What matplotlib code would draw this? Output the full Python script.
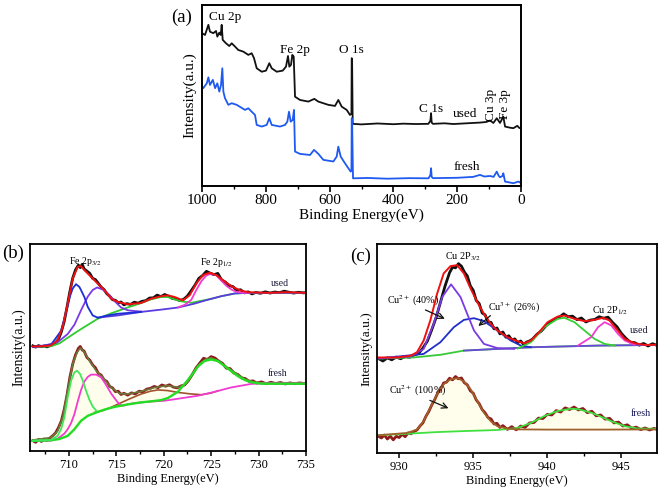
import matplotlib
matplotlib.use("Agg")
import matplotlib.pyplot as plt
from matplotlib.ticker import MultipleLocator

plt.rcParams['font.family'] = ['Liberation Serif', 'DejaVu Serif']
plt.rcParams['mathtext.fontset'] = 'stix'

# ---------------- Panel (a): survey spectra ----------------
a_used_E = [1000, 990.6, 980, 975, 964.6, 956, 952, 945.7, 941.4, 938.3, 935.1, 924.8, 914.4, 906.9, 896.5,
            886.2, 870.5, 854.8, 844.2, 837, 828.5, 812.8, 799.4, 789, 781.5, 765.8, 747, 736.7, 730.4,
            726.3, 721, 716.9, 712.5, 708.4, 692.8, 666.7, 647.9, 635.4, 604, 583, 572.7, 562, 546.4, 536,
            531.5, 530.7, 529.5, 527.6, 500, 450, 400, 369, 330, 290.4, 284, 282, 280, 276, 240, 212, 160,
            128.5, 110, 97, 86.5, 76, 65.8, 55.4, 50, 35, 24, 11.6, 5, 0]
a_used_I = [84.4, 83.4, 89.0, 85.2, 84.4, 85.6, 82.5, 84.7, 83.4, 89.0, 80.7, 78.8, 77.3, 78.8, 77.0,
            75.1, 74.2, 72.4, 73.3, 70.6, 65.0, 63.1, 63.7, 67.8, 65.0, 63.1, 63.7, 65.9, 71.8,
            65.9, 66.9, 72.4, 71.4, 49.3, 47.5, 46.6, 48.1, 46.6, 44.8, 44.2, 47.5, 43.8, 42.0, 39.2,
            40.0, 70.6, 70.0, 34.3, 34.0, 34.5, 34.1, 34.4, 34.2, 34.3, 36.0, 40.2, 35.0, 34.3, 34.6, 34.2, 34.7,
            35.0, 35.3, 36.1, 34.8, 37.4, 34.8, 38.3, 32.8, 32.2, 31.9, 33.2, 32.0, 31.9]

a_fresh_E = [1000, 996, 985, 980, 975, 966, 959, 952, 945.7, 940.4, 936.3, 933, 928, 917.5, 906.9, 891.2,
             865.2, 854.8, 844.2, 833.8, 828.5, 812.8, 797.2, 789, 781.5, 755.5, 739.8, 732.5, 727.3, 722,
             715.7, 711.6, 708.4, 692.8, 661.4, 648.9, 635.3, 619.6, 588.2, 577.8, 572.7, 565.2, 551.7,
             541.3, 533.8, 531.5, 530.7, 529.5, 526.6, 480, 420, 350, 290, 284, 282, 280, 276, 200, 150,
             128.5, 115, 97, 86, 76, 70, 65.8, 58, 55.4, 50, 24, 15, 8.4, 2, 0]
a_fresh_I = [54.9, 54.0, 56.7, 60.0, 55.8, 58.6, 54.0, 56.7, 52.1, 55.8, 65.0, 52.1, 48.5, 44.8, 45.7, 44.8,
             42.0, 42.9, 41.0, 39.2, 33.7, 32.8, 33.7, 37.4, 33.7, 32.8, 33.7, 35.5, 41.0, 35.5,
             36.5, 42.0, 19.0, 17.7, 17.1, 19.9, 17.7, 14.4, 13.5, 16.2, 21.7, 16.2, 12.5,
             9.8, 7.9, 8.5, 37.4, 36.5, 4.2, 4.4, 4.0, 4.3, 4.2, 6.0, 9.8, 5.0, 4.3, 4.5, 5.0,
             6.1, 5.2, 5.5, 5.0, 7.9, 5.6, 4.8, 5.5, 7.0, 2.4, 1.5, 2.0, 2.4, 1.8, 3.3]

# ---------------- Panel (b): Fe 2p ----------------
b_used_data_E = [706.2, 706.5, 706.8, 707.1, 707.4, 707.7, 708.0, 708.3, 708.6, 708.9, 709.2, 709.5, 709.8,
                 710.1, 710.4, 710.7, 711.0, 711.2, 711.4, 711.6, 711.9, 712.2, 712.5, 712.8, 713.1, 713.4,
                 713.7, 714.0, 714.3, 714.6, 714.9, 715.2, 715.5, 715.8, 716.1, 716.5, 716.9, 717.3, 717.7,
                 718.1, 718.5, 718.9, 719.3, 719.7, 720.1, 720.5, 720.9, 721.3, 721.7, 722.1, 722.5, 722.9,
                 723.3, 723.7, 724.1, 724.5, 724.9, 725.3, 725.7, 726.1, 726.5, 726.9, 727.3, 727.7, 728.1,
                 728.5, 728.9, 729.3, 729.7, 730.2, 730.7, 731.2, 731.7, 732.2, 732.7, 733.2, 733.7, 734.2,
                 734.7, 735.0]
b_used_data_I = [50.8, 50.2, 50.9, 50.4, 50.7, 50.3, 50.9, 51.5, 52.3, 54.0, 57.5, 62.5, 69.5,
                 77.0, 83.5, 87.5, 89.8, 88.6, 90.2, 88.0, 86.9, 85.8, 83.4, 82.8, 81.0, 79.2,
                 78.0, 76.0, 74.8, 73.1, 72.8, 71.6, 72.0, 70.6, 71.2, 70.8, 71.9, 71.4, 72.3,
                 72.6, 73.9, 74.0, 75.3, 74.6, 75.6, 74.8, 73.7, 73.4, 72.6, 73.3, 74.9, 77.5,
                 80.2, 83.4, 84.8, 86.8, 85.9, 85.2, 85.8, 82.6, 81.6, 79.9, 79.4, 77.6, 77.9,
                 76.4, 76.9, 75.9, 76.6, 76.2, 76.9, 76.3, 76.8, 76.5, 77.2, 76.7, 76.3, 76.7,
                 76.4, 76.5]
b_used_fit_E = [706.2, 707.0, 708.1, 708.8, 709.35, 709.87, 710.4, 710.93, 711.28, 711.63, 712.34, 713.04,
                713.75, 714.45, 715.15, 716.21, 717.62, 718.68, 719.73, 720.44, 721.14, 722.02, 722.73,
                723.43, 724.13, 724.84, 725.54, 726.25, 727.13, 728.01, 728.89, 731.0, 733.0, 735.0]
b_used_fit_I = [50.5, 50.6, 51.0, 53.4, 59.9, 71.2, 83.3, 89.0, 89.3, 87.4, 84.1, 80.9,
                77.7, 73.6, 72.0, 70.9, 71.5, 73.6, 74.8, 75.2, 74.4, 72.8, 75.2,
                80.9, 85.0, 86.1, 85.0, 82.5, 79.6, 77.7, 76.7, 76.4, 76.7, 76.4]
b_used_fe2_E = [706.2, 707.06, 708.11, 709.17, 709.52, 709.87, 710.15, 710.4, 710.75, 711.1, 711.28,
                711.63, 711.99, 712.51, 713.04, 714.1, 715.15, 717.62]
b_used_fe2_I = [50.3, 50.8, 51.3, 58.0, 64.0, 70.2, 75.2, 78.5, 80.6, 79.3, 77.7,
                74.4, 69.6, 65.5, 64.4, 65.5, 66.3, 67.2]
b_used_fe3_E = [706.2, 707.06, 708.82, 709.87, 710.58, 711.28, 711.99, 712.51, 712.97, 713.57, 714.1,
                714.8, 715.51, 716.21, 716.92, 717.62]
b_used_fe3_I = [50.3, 50.5, 52.6, 56.5, 61.0, 68.0, 74.6, 77.8, 79.0, 78.0, 76.1,
                72.5, 69.3, 68.0, 67.6, 67.4]
b_used_bg_E = [713.04, 715.15, 717.62, 719.73, 721.49, 723.25, 724.66, 726.07, 727.48, 728.89, 735.0]
b_used_bg_I = [64.4, 65.5, 67.2, 68.3, 69.3, 71.2, 73.1, 74.8, 76.1, 76.4, 76.4]
b_used_sat_E = [706.18, 708.11, 709.0, 709.87, 710.8, 711.63, 713.04, 714.45, 715.86, 717.62, 718.68,
                719.73, 720.44, 721.14, 721.85, 722.9, 724.0, 725.0, 726.1, 727.5, 728.9, 735.0]
b_used_sat_I = [50.2, 50.6, 52.0, 54.7, 57.5, 59.9, 63.9, 66.5, 68.8, 71.5, 73.3,
                74.4, 74.4, 73.3, 72.3, 71.6, 72.6, 73.5, 74.8, 76.1, 76.4, 76.4]
b_used_p12_E = [721.5, 722.2, 722.9, 723.4, 723.96, 724.49, 725.01, 725.54, 726.07, 726.6, 727.13,
                727.65, 728.2, 729.0]
b_used_p12_I = [69.4, 70.6, 73.0, 77.5, 82.0, 84.8, 85.7, 84.8, 82.3, 79.8, 78.0,
                76.9, 76.5, 76.4]

b_fresh_data_E = [706.2, 706.5, 706.8, 707.1, 707.4, 707.7, 708.0, 708.3, 708.6, 708.9, 709.2, 709.5,
                  709.8, 710.1, 710.4, 710.7, 711.0, 711.2, 711.4, 711.6, 711.9, 712.2, 712.5, 712.8,
                  713.1, 713.4, 713.7, 714.0, 714.3, 714.6, 714.9, 715.2, 715.5, 715.8, 716.2, 716.6,
                  717.0, 717.4, 717.8, 718.2, 718.6, 719.0, 719.4, 719.8, 720.2, 720.6, 721.0, 721.4,
                  721.8, 722.2, 722.6, 723.0, 723.4, 723.8, 724.2, 724.6, 725.0, 725.4, 725.8, 726.2,
                  726.6, 727.0, 727.4, 727.8, 728.2, 728.6, 729.0, 729.4, 729.8, 730.3, 730.8, 731.3,
                  731.8, 732.3, 732.8, 733.3, 733.8, 734.3, 734.8, 735.0]
b_fresh_data_I = [5.0, 4.2, 5.6, 4.6, 5.8, 5.1, 6.3, 7.4, 8.8, 11.3, 14.5, 20.0,
                  27.0, 35.5, 42.0, 46.5, 49.6, 50.5, 48.8, 48.3, 45.2, 43.9, 41.6, 40.2,
                  37.5, 36.7, 34.4, 33.6, 31.2, 30.5, 28.7, 28.9, 27.3, 27.9, 27.0, 28.1,
                  27.6, 28.9, 28.6, 29.9, 30.3, 31.2, 30.6, 31.9, 31.3, 32.0, 30.9, 30.5,
                  31.4, 31.9, 34.0, 36.9, 40.1, 42.5, 44.8, 44.2, 45.6, 44.9, 43.4, 42.3,
                  40.0, 39.8, 37.6, 37.0, 35.3, 35.0, 33.6, 33.9, 32.8, 33.4, 32.5, 33.2,
                  32.6, 33.1, 32.4, 32.9, 32.5, 32.9, 32.6, 32.8]
b_fresh_fit_E = [706.18, 708.11, 708.82, 709.35, 709.87, 710.4, 710.86, 711.21, 711.63, 712.16, 712.87,
                 713.57, 714.45, 715.33, 716.21, 717.62, 719.03, 720.44, 721.49, 722.37, 723.08, 723.78,
                 724.49, 725.01, 725.72, 726.42, 727.48, 728.54, 729.59, 731.0, 735.0]
b_fresh_fit_I = [5.3, 6.5, 9.7, 16.2, 29.1, 42.1, 47.7, 49.8, 47.7, 43.7, 38.8,
                 35.6, 30.7, 27.8, 27.5, 28.8, 30.7, 31.6, 30.7, 32.4, 37.2, 42.1,
                 44.5, 45.0, 43.7, 41.3, 38.0, 34.8, 33.2, 32.7, 32.7]
b_fresh_fe2_E = [706.18, 708.11, 708.8, 709.17, 709.52, 709.87, 710.23, 710.58, 710.86, 711.18, 711.46,
                 711.81, 712.16, 712.51, 712.87]
b_fresh_fe2_I = [5.0, 5.3, 7.3, 10.5, 16.2, 25.9, 34.0, 38.0, 38.8, 37.2, 34.0,
                 29.1, 24.8, 21.5, 19.6]
b_fresh_fe3_E = [706.18, 708.11, 708.82, 709.52, 709.87, 710.23, 710.58, 710.93, 711.28, 711.63, 711.99,
                 712.34, 712.87, 713.39, 713.75, 714.1, 714.45, 714.8, 715.15, 715.51, 715.86, 716.21,
                 717.0, 718.68, 720.1, 721.14, 723.6, 725.37, 727.1, 729.2, 730.5, 735.0]
b_fresh_fe3_I = [5.0, 5.0, 6.0, 8.4, 10.5, 13.5, 17.8, 23.9, 29.5, 33.6, 35.8,
                 36.9, 36.9, 35.6, 33.2, 30.5, 27.8, 25.6, 23.5, 22.0, 22.0, 22.6,
                 23.2, 23.9, 24.3, 25.0, 26.7, 28.6, 30.7, 32.4, 32.7, 32.7]
b_fresh_bg_E = [706.18, 708.11, 709.0, 709.87, 710.58, 711.28, 711.99, 712.87, 713.75, 714.8, 716.21,
                717.62, 718.68, 719.73, 720.44, 721.49, 722.2, 722.9, 723.6, 724.3, 725.01, 725.72,
                726.42, 727.13, 727.84, 728.54, 729.24, 730.3, 735.0]
b_fresh_bg_I = [4.9, 5.2, 5.8, 7.3, 10.5, 14.6, 17.0, 18.6, 20.0, 21.3, 22.5,
                23.5, 24.0, 24.6, 25.6, 28.6, 32.4, 36.4, 40.8, 43.5, 44.2, 43.4,
                41.0, 38.5, 36.1, 34.3, 33.2, 32.5, 32.5]
b_fresh_sat_E = [712.7, 713.6, 714.4, 715.2, 716.4, 717.6, 718.6, 719.4, 720.4, 721.5, 722.8, 724.0,
                 725.0, 725.7]
b_fresh_sat_I = [18.6, 19.6, 21.0, 22.7, 25.2, 27.5, 28.9, 29.5, 29.2, 28.3, 27.6, 27.2,
                 28.0, 29.1]

# ---------------- Panel (c): Cu 2p ----------------
c_used_data_E = [928.6, 928.9, 929.2, 929.5, 929.8, 930.1, 930.4, 930.7, 931.0, 931.3, 931.6, 931.9,
                 932.2, 932.5, 932.8, 933.1, 933.4, 933.6, 933.8, 934.0, 934.2, 934.4, 934.6, 934.8,
                 935.0, 935.2, 935.4, 935.6, 935.8, 936.0, 936.2, 936.4, 936.6, 936.8, 937.0, 937.2,
                 937.4, 937.6, 937.8, 938.0, 938.2, 938.4, 938.6, 938.8, 939.0, 939.3, 939.6, 939.9,
                 940.2, 940.5, 940.8, 941.1, 941.4, 941.7, 942.0, 942.3, 942.6, 942.9, 943.2, 943.5,
                 943.8, 944.1, 944.4, 944.7, 945.0, 945.3, 945.6, 945.9, 946.2, 946.5, 946.8, 947.1,
                 947.4]
c_used_data_I = [45.2, 44.0, 45.5, 44.6, 45.9, 45.1, 46.2, 45.8, 46.9, 47.6, 50.2, 53.5,
                 59.0, 65.0, 72.5, 80.0, 86.3, 88.9, 88.6, 90.6, 89.4, 86.6, 84.7, 80.0,
                 77.8, 73.0, 71.5, 67.0, 66.1, 62.6, 62.5, 59.4, 59.8, 57.0, 57.9, 55.4,
                 56.1, 54.1, 54.6, 52.8, 53.6, 52.0, 53.1, 53.6, 54.5, 56.8, 58.4, 60.8,
                 62.6, 64.0, 64.9, 66.6, 65.2, 65.5, 63.8, 64.6, 62.7, 63.6, 63.9, 65.2,
                 64.5, 65.0, 62.5, 60.4, 57.2, 54.9, 53.0, 52.8, 51.6, 52.4, 51.2, 52.3,
                 51.5]
c_used_fit_E = [928.6, 929.84, 930.75, 931.2, 931.65, 932.1, 932.56, 933.0, 933.46, 933.91, 934.37,
                934.82, 935.27, 935.72, 936.18, 936.63, 937.31, 937.99, 938.44, 938.89, 939.34, 940.02,
                940.7, 941.15, 941.83, 942.51, 943.19, 943.76, 944.2, 944.66, 945.23, 945.9, 946.58,
                947.38]
c_used_fit_I = [45.7, 45.7, 46.5, 48.2, 53.8, 63.4, 76.2, 85.9, 89.4, 89.9, 85.9,
                78.7, 72.2, 66.6, 61.8, 58.6, 55.4, 53.5, 52.5, 53.8, 57.0, 62.6,
                65.3, 65.8, 64.2, 63.1, 63.7, 64.7, 63.4, 59.4, 54.6, 52.5, 51.7,
                51.8]
c_used_cu2_E = [928.6, 930.75, 931.65, 932.33, 932.9, 933.5, 934.14, 934.59, 935.05, 935.72, 936.63,
                937.76]
c_used_cu2_I = [45.3, 46.1, 49.8, 61.8, 74.6, 80.7, 74.6, 66.6, 58.6, 52.2, 50.2,
                49.8]
c_used_cu3_E = [928.6, 929.84, 931.65, 932.78, 933.69, 934.37, 935.05, 935.72, 936.63, 937.53, 938.21,
                938.89]
c_used_cu3_I = [45.3, 46.1, 47.4, 53.0, 60.2, 63.7, 64.5, 63.1, 58.6, 53.8, 51.4,
                50.6]
c_used_bg_E = [928.6, 930.97, 932.78, 934.37, 936.63, 938.89, 943.42, 947.38]
c_used_bg_I = [45.2, 45.7, 47.0, 49.0, 49.8, 50.6, 51.4, 51.7]
c_used_sat_E = [937.99, 938.89, 939.8, 940.7, 941.15, 941.83, 942.51, 943.19, 943.87, 944.55]
c_used_sat_I = [50.0, 53.0, 60.2, 64.2, 64.7, 62.6, 58.6, 54.6, 52.2, 51.4]
c_used_p12_E = [942.06, 942.96, 943.42, 943.87, 944.32, 944.77, 945.23, 945.9]
c_used_p12_I = [51.4, 55.4, 60.2, 62.6, 61.0, 57.0, 53.8, 51.8]

c_fresh_data_E = [928.6, 928.8, 929.0, 929.2, 929.4, 929.6, 929.8, 930.0, 930.2, 930.4, 930.6, 930.8,
                  931.0, 931.2, 931.4, 931.6, 931.8, 932.0, 932.2, 932.4, 932.6, 932.8, 933.0, 933.2,
                  933.4, 933.6, 933.8, 934.0, 934.2, 934.4, 934.6, 934.8, 935.0, 935.2, 935.4, 935.6,
                  935.8, 936.0, 936.2, 936.4, 936.6, 936.8, 937.0, 937.3, 937.6, 937.9, 938.2, 938.5,
                  938.8, 939.1, 939.4, 939.7, 940.0, 940.3, 940.6, 940.9, 941.2, 941.5, 941.8, 942.1,
                  942.4, 942.7, 943.0, 943.3, 943.6, 943.9, 944.2, 944.5, 944.8, 945.1, 945.4, 945.7,
                  946.0, 946.3, 946.6, 946.9, 947.2, 947.4]
c_fresh_data_I = [8.0, 7.2, 8.6, 6.7, 8.1, 6.3, 8.0, 7.4, 9.0, 7.8, 9.6, 9.2,
                  10.3, 11.0, 12.9, 14.4, 17.5, 19.9, 23.0, 25.6, 28.7, 30.6, 33.5, 33.9,
                  35.8, 35.0, 36.6, 35.5, 35.9, 33.6, 32.6, 29.8, 28.6, 25.4, 23.6, 20.8,
                  19.2, 16.9, 16.3, 13.9, 14.2, 12.2, 13.1, 11.3, 12.6, 11.1, 12.9, 12.3,
                  14.4, 14.6, 16.7, 16.5, 18.5, 18.2, 20.3, 19.6, 21.6, 20.8, 22.0, 20.6,
                  21.3, 19.3, 20.0, 17.8, 18.2, 16.2, 16.6, 14.4, 14.8, 12.9, 13.5, 11.8,
                  12.4, 11.2, 12.0, 11.0, 11.8, 11.3]
c_fresh_fit_E = [928.6, 930.52, 931.2, 931.65, 932.1, 932.56, 933.0, 933.46, 933.98, 934.37, 934.82,
                 935.27, 935.72, 936.18, 936.63, 937.31, 937.99, 940.0, 944.0, 947.38]
c_fresh_fit_I = [8.5, 9.6, 11.2, 15.2, 21.7, 28.1, 32.9, 35.3, 35.8, 34.2, 30.5,
                 24.9, 19.3, 15.2, 12.8, 11.7, 11.3, 11.2, 11.2, 11.3]
c_fresh_bg_E = [928.6, 930.5, 932.5, 934.4, 936.6, 937.99, 938.89, 939.8, 940.7, 941.6, 942.06,
                942.96, 943.42, 944.32, 945.23, 946.13, 947.38]
c_fresh_bg_I = [8.5, 9.2, 10.0, 10.5, 11.0, 12.0, 14.4, 17.7, 20.1, 21.2, 21.0,
                19.3, 18.0, 15.2, 12.8, 11.7, 11.6]

# ---------------- Figure ----------------
fig = plt.figure(figsize=(6.61, 4.88), dpi=100)
axa = fig.add_axes([0.3056, 0.619, 0.4826, 0.3709])
axb = fig.add_axes([0.0454, 0.0758, 0.4176, 0.4242])
axc = fig.add_axes([0.5703, 0.0717, 0.4236, 0.4283])

BLACK = '#111111'
FILL = '#fffeec'
lw_a = 1.3
axa.plot(a_used_E, a_used_I, color=BLACK, lw=lw_a)
axa.plot(a_fresh_E, a_fresh_I, color='#1f5af0', lw=lw_a)
axa.set_xlim(1000, 0)
axa.set_ylim(0, 100)
axa.set_yticks([])
axa.xaxis.set_major_locator(MultipleLocator(200))
axa.xaxis.set_minor_locator(MultipleLocator(100))
axa.tick_params(axis='x', which='major', direction='out', length=4, width=1.2, labelsize=11, pad=2)
axa.tick_params(axis='x', which='minor', direction='out', length=2.5, width=1.0)
axa.set_xlabel('Binding Energy(eV)', fontsize=11, labelpad=1)
axa.set_ylabel('Intensity(a.u.)', fontsize=11, labelpad=4)
for s in axa.spines.values():
    s.set_linewidth(1.4)
ta = 9.5
axa.text(977, 93.5, 'Cu 2p', fontsize=ta, ha='left', va='center')
axa.text(710, 75, 'Fe 2p', fontsize=ta, ha='center', va='center')
axa.text(531, 75, 'O 1s', fontsize=ta, ha='center', va='center')
axa.text(282, 42.5, 'C 1s', fontsize=ta, ha='center', va='center')
axa.text(175, 40, 'used', fontsize=ta, ha='center', va='center')
axa.text(169, 10.5, 'fresh', fontsize=ta, ha='center', va='center')
axa.text(93, 44.5, 'Cu 3p', fontsize=ta, ha='center', va='center', rotation=90)
axa.text(50, 45, 'Fe 3p', fontsize=ta, ha='center', va='center', rotation=90)
fig.text(182 / 661, 1 - 17 / 488, '(a)', fontsize=13.5, ha='center', va='center')

# Panel (b)
axb.fill(b_fresh_fit_E + b_fresh_bg_E[::-1], b_fresh_fit_I + b_fresh_bg_I[::-1], color=FILL, lw=0)
axb.plot(b_used_data_E, b_used_data_I, color=BLACK, lw=2.0)
axb.plot(b_used_sat_E, b_used_sat_I, color='#2ecc2e', lw=1.3)
axb.plot(b_used_bg_E, b_used_bg_I, color='#5a3ce0', lw=1.3)
axb.plot(b_used_fe3_E, b_used_fe3_I, color='#7a3ae6', lw=1.3)
axb.plot(b_used_fe2_E, b_used_fe2_I, color='#1c2fd6', lw=1.3)
axb.plot(b_used_p12_E, b_used_p12_I, color='#f23bd0', lw=1.3)
axb.plot(b_used_fit_E, b_used_fit_I, color='#f01010', lw=1.4)

axb.plot(b_fresh_data_E, b_fresh_data_I, color='#8e1a1a', lw=2.0)
axb.plot(b_fresh_fit_E, b_fresh_fit_I, color='#6b7a3a', lw=1.2)
axb.plot(b_fresh_sat_E, b_fresh_sat_I, color='#a0522d', lw=1.2)
axb.plot(b_fresh_fe3_E, b_fresh_fe3_I, color='#f23bd0', lw=1.3)
axb.plot(b_fresh_bg_E, b_fresh_bg_I, color='#22dd22', lw=1.7)
axb.plot(b_fresh_fe2_E, b_fresh_fe2_I, color='#3ee85a', lw=1.3)

axb.set_xlim(705.9, 735)
axb.set_ylim(0, 100)
axb.set_yticks([])
axb.xaxis.set_major_locator(MultipleLocator(5))
axb.xaxis.set_minor_locator(MultipleLocator(2.5))
axb.tick_params(axis='x', which='major', direction='out', length=3.5, width=1.1, labelsize=9, pad=2)
axb.tick_params(axis='x', which='minor', direction='out', length=2.2, width=1.0)
axb.set_xlabel('Binding Energy(eV)', fontsize=9, labelpad=2)
axb.set_ylabel('Intensity(a.u.)', fontsize=10, labelpad=3)
for s in axb.spines.values():
    s.set_linewidth(1.3)
tb = 7
axb.text(710.05, 91.5, 'Fe 2p$_{3/2}$', fontsize=tb, ha='left', va='center')
axb.text(723.8, 91.0, 'Fe 2p$_{1/2}$', fontsize=tb, ha='left', va='center')
axb.text(732.2, 81.0, 'used', fontsize=tb, ha='center', va='center', color='#1a1a3a')
axb.text(732.0, 37.5, 'fresh', fontsize=tb, ha='center', va='center', color='#1a1a3a')
fig.text(13 / 661, 1 - 253 / 488, '(b)', fontsize=13.5, ha='center', va='center')

# Panel (c)
axc.fill(c_fresh_fit_E + c_fresh_bg_E[::-1], c_fresh_fit_I + c_fresh_bg_I[::-1], color=FILL, lw=0)
axc.plot(c_used_data_E, c_used_data_I, color=BLACK, lw=2.0)
axc.plot(c_used_bg_E, c_used_bg_I, color='#38c838', lw=1.3)
axc.plot(c_used_bg_E[3:], c_used_bg_I[3:], color='#6a48d8', lw=1.3)
axc.plot(c_used_cu3_E, c_used_cu3_I, color='#1f2fc8', lw=1.3)
axc.plot(c_used_cu2_E, c_used_cu2_I, color='#7a3ae6', lw=1.3)
axc.plot(c_used_sat_E, c_used_sat_I, color='#35d035', lw=1.3)
axc.plot(c_used_p12_E, c_used_p12_I, color='#f23bd0', lw=1.3)
axc.plot(c_used_fit_E, c_used_fit_I, color='#f01010', lw=1.4)

axc.plot(c_fresh_data_E, c_fresh_data_I, color='#8e1a1a', lw=2.0)
axc.plot(c_fresh_bg_E, c_fresh_bg_I, color='#40e040', lw=1.3)
axc.plot(c_fresh_fit_E, c_fresh_fit_I, color='#a0602a', lw=1.3)

axc.set_xlim(928.5, 947.4)
axc.set_ylim(0, 100)
axc.set_yticks([])
axc.xaxis.set_major_locator(MultipleLocator(5))
axc.xaxis.set_minor_locator(MultipleLocator(2.5))
axc.tick_params(axis='x', which='major', direction='out', length=3.5, width=1.1, labelsize=9, pad=2)
axc.tick_params(axis='x', which='minor', direction='out', length=2.2, width=1.0)
axc.set_xlabel('Binding Energy(eV)', fontsize=9, labelpad=2)
axc.set_ylabel('Intensity(a.u.)', fontsize=9.5, labelpad=3)
for s in axc.spines.values():
    s.set_linewidth(1.3)
tc = 7.3
axc.text(933.1, 93.9, 'Cu 2P$_{3/2}$', fontsize=tc, ha='left', va='center')
axc.text(929.2, 72.7, 'Cu$^{2+}$ (40%)', fontsize=tc, ha='left', va='center')
axc.annotate('', xy=(933.25, 63.7), xytext=(931.6, 69.0),
             arrowprops=dict(arrowstyle='->', color=BLACK, lw=0.9))
axc.text(936.0, 69.5, 'Cu$^{3+}$ (26%)', fontsize=tc, ha='left', va='center')
axc.annotate('', xy=(935.2, 59.9), xytext=(936.3, 66.6),
             arrowprops=dict(arrowstyle='->', color=BLACK, lw=0.9))
axc.text(943.0, 68.2, 'Cu 2P$_{1/2}$', fontsize=tc, ha='left', va='center')
axc.text(945.6, 58.6, 'used', fontsize=tc, ha='left', va='center', color='#1a1a3a')
axc.text(929.3, 29.7, 'Cu$^{2+}$ (100%)', fontsize=tc, ha='left', va='center')
axc.annotate('', xy=(933.5, 20.9), xytext=(931.9, 25.7),
             arrowprops=dict(arrowstyle='->', color=BLACK, lw=0.9))
axc.text(945.6, 18.8, 'fresh', fontsize=tc, ha='left', va='center', color='#1a1a5a')
fig.text(361 / 661, 1 - 256 / 488, '(c)', fontsize=13.5, ha='center', va='center')

fig.savefig('out.png', dpi=100)
